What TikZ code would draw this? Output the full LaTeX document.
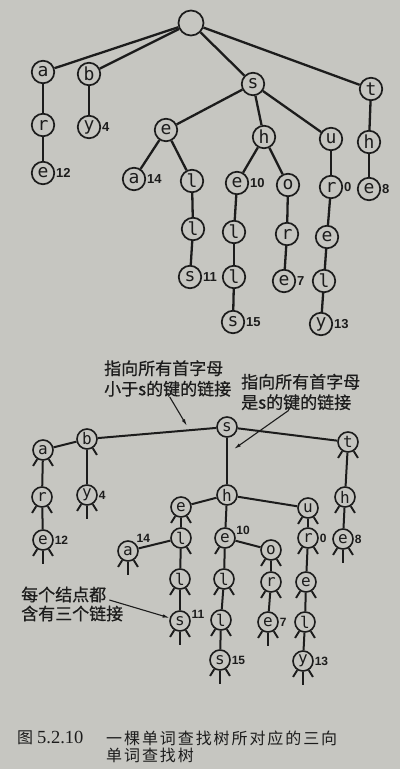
\documentclass[tikz,border=0pt]{standalone}
\usepackage{fontspec}
\usetikzlibrary{arrows.meta}
\newfontfamily\cjk[FakeBold=0.6]{Noto Sans CJK SC}
\newfontfamily\capcjk[LetterSpace=12]{Noto Sans CJK SC}
\newfontfamily\keyfont{DejaVu Sans Mono}
\newfontfamily\numfont{Liberation Sans}
\newfontfamily\capnum{Liberation Serif}
\definecolor{paper}{RGB}{198,198,193}
\definecolor{ink}{RGB}{28,28,28}

\begin{document}
\begin{tikzpicture}[x=1pt,y=-1pt,
    key/.style={circle,draw=ink,line width=1.7pt,inner sep=0pt,minimum size=22.5pt,
      text=ink,font=\keyfont\fontsize{18}{18}\selectfont},
    tkey/.style={key,line width=1.6pt,minimum size=20pt,
      font=\keyfont\fontsize{16}{16}\selectfont},
    num/.style={inner sep=0.8pt,text=ink,font=\numfont\bfseries\fontsize{13}{13}\selectfont},
    tnum/.style={num,font=\numfont\bfseries\fontsize{12}{12}\selectfont},
    edge/.style={draw=ink,line width=2.3pt},
    link/.style={draw=ink,line width=1.9pt},
    note/.style={inner sep=0pt,align=left,text=ink,font=\cjk\fontsize{17}{20.5}\selectfont},
    >={Latex[length=7pt,width=3.5pt]}]
    \useasboundingbox (0,0) rectangle (400,769);
    \fill [paper] (0,0) rectangle (400,769);
    % trie
    \node[key,minimum size=25pt] (root) at (191,23) {};
    \node[key] (a) at (43,72) {a};
    \node[key] (ar) at (43,125) {r};
    \node[key,label={[num]0:12}] (are) at (43,173) {e};
    \node[key] (b) at (89,74) {b};
    \node[key,label={[num]0:4}] (by) at (89,127) {y};
    \node[key] (s) at (253,84) {s};
    \node[key] (se) at (166,130) {e};
    \node[key,label={[num]0:14}] (sea) at (134,179) {a};
    \node[key] (sel) at (192,181) {l};
    \node[key] (sell) at (193,229) {l};
    \node[key,label={[num]0:11}] (sells) at (190,277) {s};
    \node[key] (sh) at (264,137) {h};
    \node[key,label={[num]0:10}] (she) at (237,183) {e};
    \node[key] (shel) at (234,232) {l};
    \node[key] (shell) at (234,277) {l};
    \node[key,label={[num]0:15}] (shells) at (233,322) {s};
    \node[key] (sho) at (288,185) {o};
    \node[key] (shor) at (287,234) {r};
    \node[key,label={[num]0:7}] (shore) at (284,281) {e};
    \node[key] (su) at (331,139) {u};
    \node[key,label={[num]0:0}] (sur) at (331,187) {r};
    \node[key] (sure) at (327,237) {e};
    \node[key] (surel) at (324,281) {l};
    \node[key,label={[num]0:13}] (surely) at (321,324) {y};
    \node[key] (t) at (371,89) {t};
    \node[key] (th) at (369,142) {h};
    \node[key,label={[num]0:8}] (the) at (369,189) {e};
    \foreach \u/\v in {root/a,root/b,root/s,root/t,a/ar,ar/are,b/by,s/se,s/sh,s/su,
      se/sea,se/sel,sel/sell,sell/sells,sh/she,sh/sho,she/shel,shel/shell,shell/shells,
      sho/shor,shor/shore,su/sur,sur/sure,sure/surel,surel/surely,t/th,th/the}
      \draw [edge] (\u) -- (\v) ;
    % ternary search trie
    \node[tkey] (xs) at (227,427) {s};
    \node[tkey] (xb) at (87,439) {b};
    \node[tkey] (xa) at (43,450) {a};
    \node[tkey] (xar) at (42,497) {r};
    \node[tkey,label={[tnum]0:12}] (xare) at (43,540) {e};
    \node[tkey,label={[tnum]0:4}] (xby) at (87,495) {y};
    \node[tkey] (xt) at (348,442) {t};
    \node[tkey] (xth) at (345,497) {h};
    \node[tkey,label={[tnum]0:8}] (xthe) at (343,539) {e};
    \node[tkey] (xh) at (227,495) {h};
    \node[tkey] (xe) at (181,507) {e};
    \node[tkey] (xel) at (181,538) {l};
    \node[tkey,label={[tnum,anchor=south west]north east:14}] (xea) at (128,551) {a};
    \node[tkey] (xell) at (180,579) {l};
    \node[tkey,label={[tnum]10:11}] (xells) at (180,621) {s};
    \node[tkey,label={[tnum]15:10}] (xhe) at (225,538) {e};
    \node[tkey] (xo) at (271,550) {o};
    \node[tkey] (xor) at (271,582) {r};
    \node[tkey,label={[tnum]0:7}] (xore) at (268,622) {e};
    \node[tkey] (xhel) at (224,579) {l};
    \node[tkey] (xhell) at (221,620) {l};
    \node[tkey,label={[tnum]0:15}] (xhells) at (220,660) {s};
    \node[tkey] (xu) at (308,508) {u};
    \node[tkey,label={[tnum]0:0}] (xur) at (308,538) {r};
    \node[tkey] (xure) at (306,582) {e};
    \node[tkey] (xurel) at (305,622) {l};
    \node[tkey,label={[tnum]0:13}] (xurely) at (303,661) {y};
    \foreach \u/\v in {xs/xb,xs/xh,xs/xt,xb/xa,xb/xby,xa/xar,xar/xare,xt/xth,xth/xthe,
      xh/xe,xh/xhe,xh/xu,xe/xel,xel/xea,xel/xell,xell/xells,xhe/xhel,xhe/xo,
      xhel/xhell,xhell/xhells,xo/xor,xor/xore,xu/xur,xur/xure,xure/xurel,xurel/xurely}
      \draw [edge,line width=2pt] (\u) -- (\v) ;
    \foreach \n in {xa,xar,xare,xby,xt,xth,xthe,xe,xea,xell,xells,xhe,xo,xor,xore,
      xhel,xhell,xhells,xu,xur,xure,xurel,xurely}
      \draw [link] (\n.-122) -- ++(-122:8pt) ;
    \foreach \n in {xare,xby,xthe,xea,xells,xore,xhells,xurely}
      \draw [link] (\n.south) -- ++(0,13) ;
    \foreach \n in {xb,xa,xar,xare,xby,xt,xth,xthe,xe,xel,xea,xell,xells,xo,xor,xore,
      xhel,xhell,xhells,xu,xur,xure,xurel,xurely}
      \draw [link] (\n.-58) -- ++(-58:8pt) ;
    % notes
    \node[note,anchor=west] (lessnote) at (104,378.5) {指向所有首字母\\小于s的键的链接};
    \node[note,anchor=west] (eqnote) at (241,392) {指向所有首字母\\是s的键的链接};
    \node[note,anchor=west,font=\cjk\fontsize{17}{19}\selectfont] (nodenote) at (21,604)
      {每个结点都\\含有三个链接};
    \coordinate (lessmark) at (187,426) ;
    \coordinate (eqmark) at (234,449) ;
    \draw [->,ink,line width=1.1pt] ([xshift=2pt]lessnote.south) -- (lessmark) ;
    \draw [->,ink,line width=1.1pt] ([xshift=-12pt]eqnote.south) -- (eqmark) ;
    \draw [->,ink,line width=1.1pt] ([xshift=-14pt,yshift=4pt]nodenote.east) -- (xells) ;
    % caption
    \node[anchor=west,inner sep=0pt,text=ink] (figno) at (17,738)
      {\capcjk\fontsize{16}{17}\selectfont 图\hspace{4pt}\capnum\fontsize{18.5}{17}\selectfont 5.2.10};
    \node[anchor=west,inner sep=0pt,align=left,text=ink,font=\capcjk\fontsize{16}{17}\selectfont]
      (figtext) at (106,746.5) {一棵单词查找树所对应的三向\\单词查找树};
  \end{tikzpicture}
\end{document}
